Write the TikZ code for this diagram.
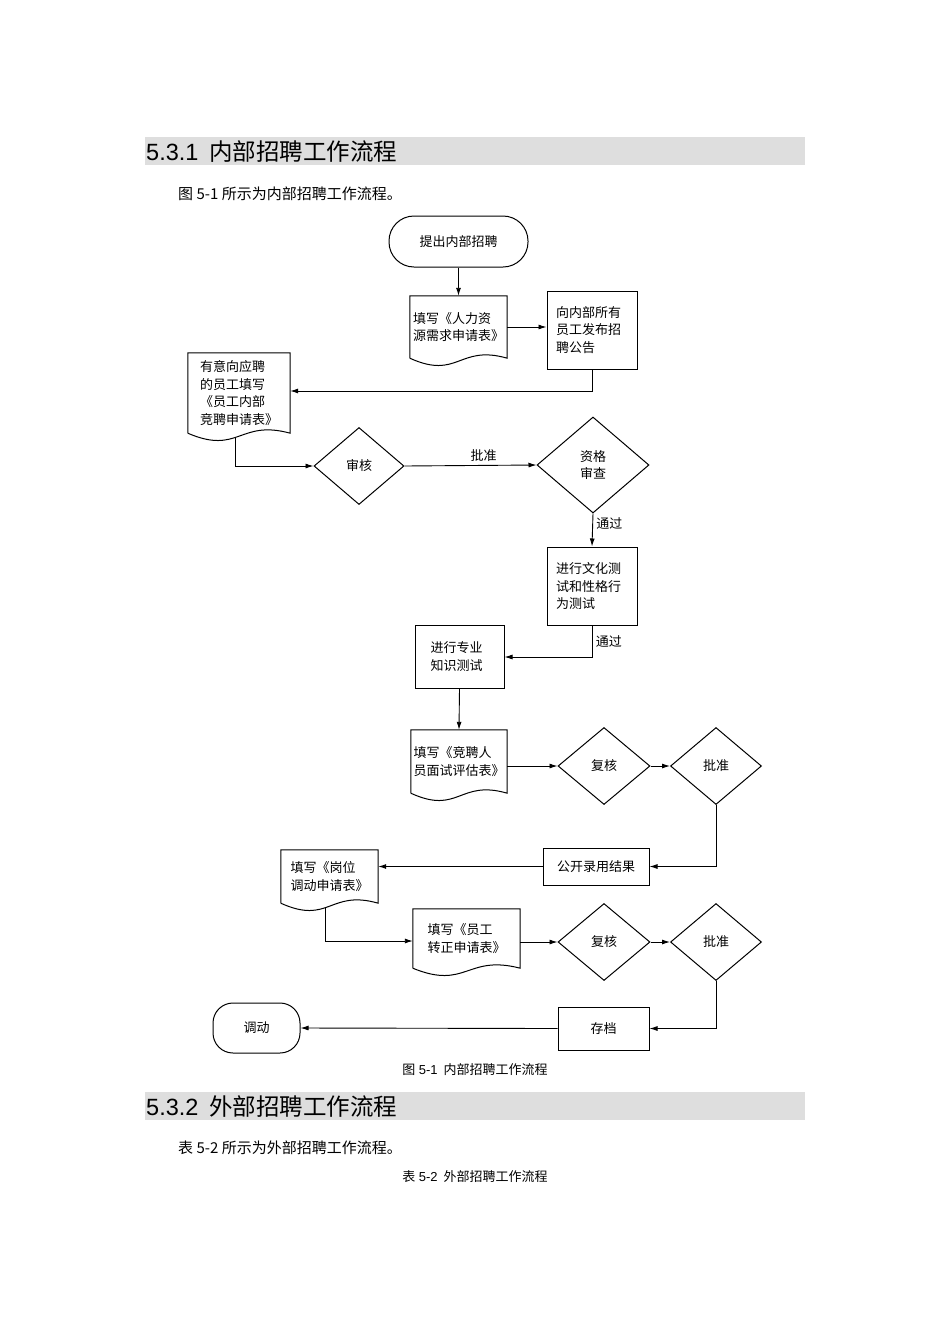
\documentclass[tikz,border=0pt]{standalone}
\usepackage{fontspec}
\setmainfont{Liberation Serif}
\newfontfamily\cjk{Noto Sans CJK SC}
\newfontfamily\hsans{Liberation Sans}
\usetikzlibrary{shapes.geometric,arrows.meta,calc}
\begin{document}
\begin{tikzpicture}[x=1pt,y=-1pt,
  font=\cjk\fontsize{13}{17.5}\selectfont,
  arr/.style={draw,line width=0.9pt,-{Latex[length=8pt,width=5pt]}},
  ln/.style={draw,line width=0.9pt},
  boxx/.style={draw,line width=1pt,align=left,inner sep=0pt},
  dia/.style={draw,line width=1pt,diamond,inner sep=0pt},
  lbl/.style={font=\cjk\fontsize{13}{15}\selectfont}]
\useasboundingbox (0,0) rectangle (950,1344);
\newcommand\docnode[6]{%
  \node[inner sep=0pt,minimum width=#4-#2,minimum height=#5-#3,align=left] (#1) at ({(#2+#4)/2},{(#3+#5)/2}) {#6};
  \draw[line width=1pt] (#1.south west) -- (#1.north west) -- (#1.north east) -- (#1.south east)
    .. controls ($(#1.south)+(0,-14)$) and ($(#1.south)+(0,22)$) .. (#1.south west);}
% headers
\fill[black!13] (145,137) rectangle (805,165);
\node[anchor=west,inner sep=0pt] (h1) at (146,152) {\hsans\fontsize{23.5}{25}\selectfont 5.3.1\hspace{11pt}{\cjk 内部招聘工作流程}};
\node[anchor=west,inner sep=0pt] (p1) at (178,194) {\fontsize{15}{17}\selectfont {\cjk\fontsize{15}{17}\selectfont 图} 5-1 {\cjk\fontsize{15}{17}\selectfont 所示为内部招聘工作流程。}};
\fill[black!13] (145,1092) rectangle (805,1120);
\node[anchor=west,inner sep=0pt] (h2) at (146,1107) {\hsans\fontsize{23.5}{25}\selectfont 5.3.2\hspace{11pt}{\cjk 外部招聘工作流程}};
\node[anchor=west,inner sep=0pt] (p2) at (178,1148) {\fontsize{15}{17}\selectfont {\cjk\fontsize{15}{17}\selectfont 表} 5-2 {\cjk\fontsize{15}{17}\selectfont 所示为外部招聘工作流程。}};
\node (c1) at (475,1070) {\hsans\fontsize{13}{15}\selectfont {\cjk 图} 5-1\hspace{6pt}{\cjk 内部招聘工作流程}};
\node (c2) at (475,1177) {\hsans\fontsize{13}{15}\selectfont {\cjk 表} 5-2\hspace{6pt}{\cjk 外部招聘工作流程}};
% nodes
\node[draw,line width=1pt,rounded corners=25pt,minimum width=139pt,minimum height=51pt] (start) at (458.5,241.5) {提出内部招聘};
\docnode{d1}{410}{296}{507}{358}{填写《人力资\\源需求申请表》}
\node[boxx,minimum width=90pt,minimum height=78pt,text width=72pt] (b2) at (592,330) {向内部所有\\员工发布招\\聘公告};
\docnode{d3}{188}{353}{290}{433}{有意向应聘\\的员工填写\\《员工内部\\竞聘申请表》}
\node[dia,minimum width=90pt,minimum height=77pt] (s1) at (359,466) {审核};
\node[dia,minimum width=112pt,minimum height=96pt,align=center] (s2) at (593,465) {资格\\审查};
\node[boxx,minimum width=90pt,minimum height=78pt,text width=72pt] (b4) at (592,586) {进行文化测\\试和性格行\\为测试};
\node[boxx,minimum width=89pt,minimum height=63pt,text width=58pt] (b5) at (459.5,656.5) {进行专业\\知识测试};
\docnode{d6}{411}{730}{507}{793}{填写《竞聘人\\员面试评估表》}
\node[dia,minimum width=92pt,minimum height=77pt] (r1) at (604,766) {复核};
\node[dia,minimum width=91pt,minimum height=77pt] (a1) at (716,766) {批准};
\node[boxx,minimum width=106pt,minimum height=37pt,align=center] (b7) at (596,866.5) {公开录用结果};
\docnode{d8}{281}{850}{378}{903}{填写《岗位\\调动申请表》}
\docnode{d9}{413}{909}{520}{968}{填写《员工\\转正申请表》}
\node[dia,minimum width=92pt,minimum height=77pt] (r2) at (604,942) {复核};
\node[dia,minimum width=91pt,minimum height=77pt] (a2) at (716,942) {批准};
\node[boxx,minimum width=91pt,minimum height=43pt,align=center] (b10) at (603.5,1028.5) {存档};
\node[draw,line width=1pt,rounded corners=20pt,minimum width=87pt,minimum height=50pt] (end) at (256.5,1028) {调动};
% connectors
\draw[arr] (start) -- (d1);
\draw[arr] (d1.east) -- (b2.west |- d1.east);
\draw[arr] (b2.south) |- (d3.east |- 0,391);
\draw[arr] (235,438) |- (s1.west);
\draw[arr] (s1.east) -- node[lbl,above,pos=0.6] {批准} (s2.west);
\draw[arr] (s2.south) -- node[lbl,right,pos=0.3] {通过} (b4.north);
\draw[arr] (b4.south) |- node[lbl,right,pos=0.25] {通过} (b5.east |- 0,657);
\draw[arr] (b5.south) -- (d6.north);
\draw[arr] (d6.east |- r1.west) -- (r1.west);
\draw[arr] (r1.east) -- (a1.west);
\draw[arr] (a1.south) |- (b7.east);
\draw[arr] (b7.west) -- (d8.east |- b7.west);
\draw[arr] (325,907) |- (d9.west |- 0,941);
\draw[arr] (d9.east |- r2.west) -- (r2.west);
\draw[arr] (r2.east) -- (a2.west);
\draw[arr] (a2.south) |- (b10.east);
\draw[arr] (b10.west) -- (end.east);
\end{tikzpicture}
\end{document}
